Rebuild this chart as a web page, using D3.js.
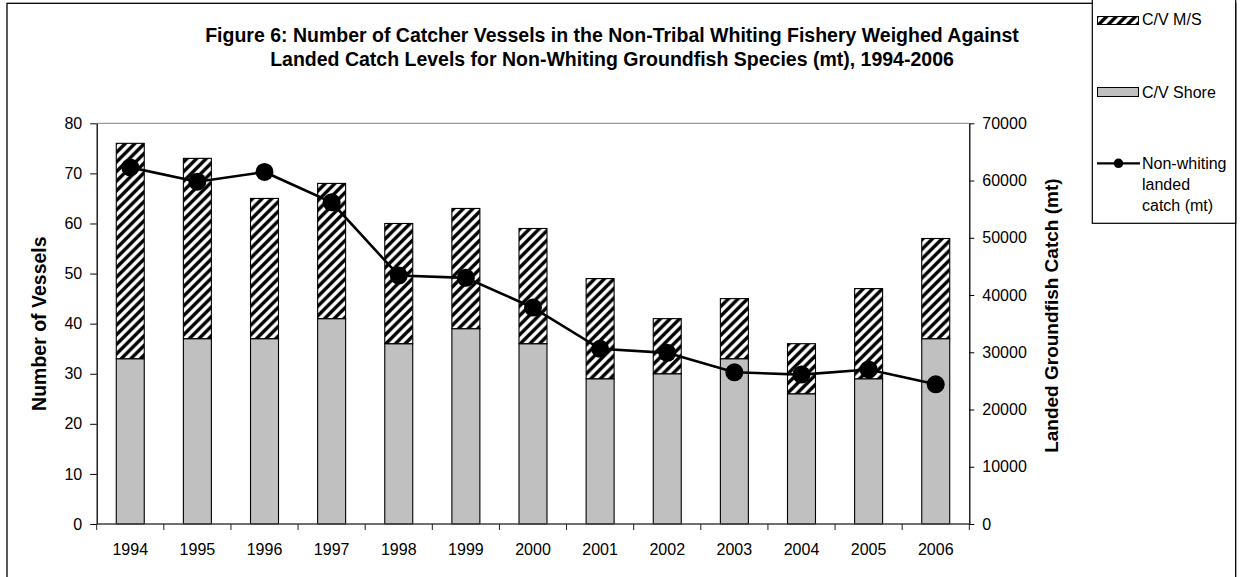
<!DOCTYPE html>
<html>
<head>
<meta charset="utf-8">
<script src="https://cdn.jsdelivr.net/npm/d3@7"></script>
<style>
  html, body { margin: 0; padding: 0; background: #fff; }
  svg { display: block; font-family: "Liberation Sans", Arial, sans-serif; }
</style>
</head>
<body>
<svg id="chart" width="1242" height="577"></svg>
<script>
// Catcher vessels by sector and non-whiting landed catch, 1994-2006
const years = ["1994","1995","1996","1997","1998","1999","2000","2001","2002","2003","2004","2005","2006"];
const shoreVessels = [33, 37, 37, 41, 36, 39, 36, 29, 30, 33, 26, 29, 37];
const msVessels    = [43, 36, 28, 27, 24, 24, 23, 20, 11, 12, 10, 18, 20];
const landedCatch  = [62300, 59800, 61500, 56200, 43400, 43000, 37800, 30600, 29900, 26500, 26100, 27000, 24400];
const vesselTicks  = [0, 10, 20, 30, 40, 50, 60, 70, 80];
const catchTicks   = [0, 10000, 20000, 30000, 40000, 50000, 60000, 70000];

const titleLines = [
  "Figure 6: Number of Catcher Vessels in the Non-Tribal Whiting Fishery Weighed Against",
  "Landed Catch Levels for Non-Whiting Groundfish Species (mt), 1994-2006"
];

const svg = d3.select("#chart");
const plot = { left: 96.7, right: 969.3, top: 123.3, bottom: 524 };

// diagonal hatch used for the C/V M/S segments
const defs = svg.append("defs");
const hatch = defs.append("pattern")
  .attr("id", "hatch")
  .attr("patternUnits", "userSpaceOnUse")
  .attr("width", 9.6).attr("height", 9.6);
hatch.append("rect").attr("width", 9.6).attr("height", 9.6).attr("fill", "#fff");
hatch.append("path")
  .attr("d", "M-2.4,2.4 L2.4,-2.4 M0,9.6 L9.6,0 M7.2,12 L12,7.2")
  .attr("stroke", "#000").attr("stroke-width", 3.4);

// outer frame
svg.append("rect")
  .attr("x", 7).attr("y", 3.3).attr("width", 1228.7).attr("height", 640)
  .attr("fill", "none").attr("stroke", "#000").attr("stroke-width", 1.3);

// title
svg.append("g").selectAll("text").data(titleLines).join("text")
  .attr("x", 612).attr("y", (d, i) => 42 + i * 24)
  .attr("text-anchor", "middle")
  .attr("font-size", 19.5).attr("font-weight", "bold").attr("fill", "#000")
  .text(d => d);

// scales
const x = d3.scaleBand().domain(years)
  .range([plot.left, plot.right])
  .paddingInner(0.583).paddingOuter(0.2915);
const yL = d3.scaleLinear().domain([0, 80]).range([plot.bottom, plot.top]);
const yR = d3.scaleLinear().domain([0, 70000]).range([plot.bottom, plot.top]);

// plot area top edge
svg.append("line")
  .attr("x1", plot.left).attr("x2", plot.right)
  .attr("y1", plot.top).attr("y2", plot.top)
  .attr("stroke", "#808080").attr("stroke-width", 1);

// stacked bars
const rows = years.map((yr, i) => ({ yr, shore: shoreVessels[i], ms: msVessels[i] }));
const bars = svg.append("g");
bars.selectAll("rect.shore").data(rows).join("rect")
  .attr("class", "shore")
  .attr("x", d => x(d.yr)).attr("width", x.bandwidth())
  .attr("y", d => yL(d.shore)).attr("height", d => yL(0) - yL(d.shore))
  .attr("fill", "#c0c0c0").attr("stroke", "#000").attr("stroke-width", 1.1);
bars.selectAll("rect.ms").data(rows).join("rect")
  .attr("class", "ms")
  .attr("x", d => x(d.yr)).attr("width", x.bandwidth())
  .attr("y", d => yL(d.shore + d.ms)).attr("height", d => yL(d.shore) - yL(d.shore + d.ms))
  .attr("fill", "url(#hatch)").attr("stroke", "#000").attr("stroke-width", 1.1);

// left axis
const axL = svg.append("g").attr("transform", `translate(${plot.left},0)`)
  .call(d3.axisLeft(yL).tickValues(vesselTicks).tickSize(6.5).tickPadding(8).tickSizeOuter(0));
// right axis
const axR = svg.append("g").attr("transform", `translate(${plot.right},0)`)
  .call(d3.axisRight(yR).tickValues(catchTicks).tickSize(5).tickPadding(8).tickSizeOuter(0).tickFormat(d3.format("d")));
// bottom axis with ticks on category boundaries
const step = x.step();
const boundaries = d3.range(years.length + 1).map(i => plot.left + i * step);
const axB = svg.append("g").attr("transform", `translate(0,${plot.bottom})`);
axB.append("line").attr("x1", plot.left).attr("x2", plot.right)
  .attr("stroke", "#404040").attr("stroke-width", 1.6);
axB.selectAll("line.tick").data(boundaries).join("line")
  .attr("class", "tick")
  .attr("x1", d => d).attr("x2", d => d).attr("y1", 0).attr("y2", 6)
  .attr("stroke", "#202020").attr("stroke-width", 1);
axB.selectAll("text").data(years).join("text")
  .attr("x", d => x(d) + x.bandwidth() / 2).attr("y", 31)
  .attr("text-anchor", "middle").attr("font-size", 16).attr("fill", "#000")
  .text(d => d);

[axL, axR].forEach(g => {
  g.selectAll(".domain").attr("stroke", "#000").attr("stroke-width", 1.3);
  g.selectAll(".tick line").attr("stroke", "#000").attr("stroke-width", 1);
  g.selectAll(".tick text").attr("font-size", 16).attr("fill", "#000")
    .attr("font-family", "Liberation Sans, Arial, sans-serif");
});

// axis titles
svg.append("text")
  .attr("transform", `translate(46,${(plot.top + plot.bottom) / 2}) rotate(-90)`)
  .attr("text-anchor", "middle").attr("font-size", 19.5).attr("font-weight", "bold")
  .text("Number of Vessels");
svg.append("text")
  .attr("transform", `translate(1058,${(plot.top + plot.bottom) / 2 - 8}) rotate(-90)`)
  .attr("text-anchor", "middle").attr("font-size", 19).attr("font-weight", "bold")
  .text("Landed Groundfish Catch (mt)");

// catch line with markers
const cx = (d, i) => x(years[i]) + x.bandwidth() / 2;
svg.append("path")
  .datum(landedCatch)
  .attr("d", d3.line().x(cx).y(d => yR(d)))
  .attr("fill", "none").attr("stroke", "#000").attr("stroke-width", 2.6);
svg.append("g").selectAll("circle").data(landedCatch).join("circle")
  .attr("cx", cx).attr("cy", d => yR(d)).attr("r", 9)
  .attr("fill", "#000");

// legend
const lg = svg.append("g");
lg.append("rect")
  .attr("x", 1092.3).attr("y", -5).attr("width", 143.4).attr("height", 228.3)
  .attr("fill", "#fff").attr("stroke", "#000").attr("stroke-width", 1.2);
lg.append("rect")
  .attr("x", 1097.5).attr("y", 16.5).attr("width", 41).attr("height", 8)
  .attr("fill", "url(#hatch)").attr("stroke", "#000").attr("stroke-width", 1);
lg.append("rect")
  .attr("x", 1097.5).attr("y", 87.5).attr("width", 41).attr("height", 9)
  .attr("fill", "#c0c0c0").attr("stroke", "#000").attr("stroke-width", 1);
lg.append("line")
  .attr("x1", 1097).attr("x2", 1140).attr("y1", 163.3).attr("y2", 163.3)
  .attr("stroke", "#000").attr("stroke-width", 2.2);
lg.append("circle").attr("cx", 1118.5).attr("cy", 163.3).attr("r", 4.8).attr("fill", "#000");
const legendText = [
  { t: "C/V M/S", y: 25 },
  { t: "C/V Shore", y: 97.5 },
  { t: "Non-whiting", y: 169 },
  { t: "landed", y: 190 },
  { t: "catch (mt)", y: 211 }
];
lg.selectAll("text").data(legendText).join("text")
  .attr("x", 1142).attr("y", d => d.y)
  .attr("font-size", 16).attr("fill", "#000")
  .text(d => d.t);
</script>
</body>
</html>
